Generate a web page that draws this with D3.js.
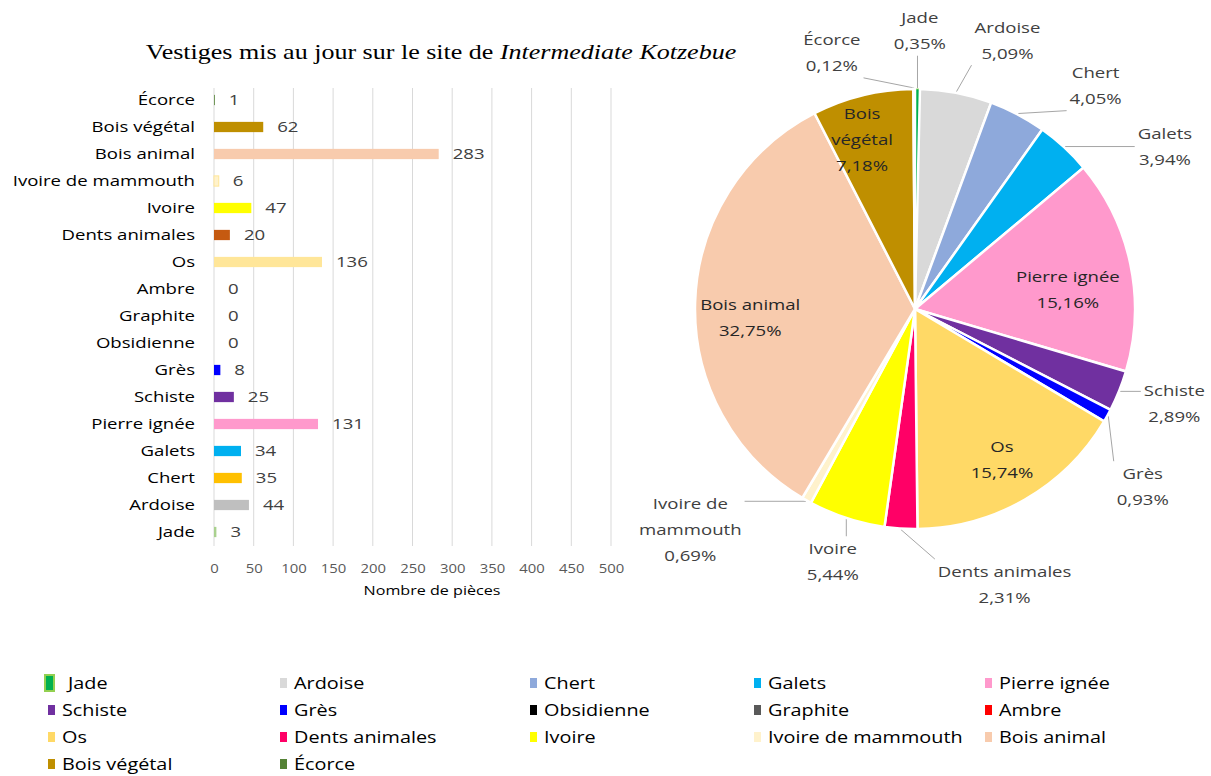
<!DOCTYPE html>
<html>
<head>
<meta charset="utf-8">
<script src="https://cdn.jsdelivr.net/npm/d3@7"></script>
<style>
  body { margin: 0; background: #fff; }
  text { font-family: "Open Sans", sans-serif; }
</style>
</head>
<body>
<div id="chart"></div>
<script>
// categories in pie / legend order (bar chart shows them reversed, top to bottom)
const categories = ["Jade", "Ardoise", "Chert", "Galets", "Pierre ignée", "Schiste", "Grès",
  "Obsidienne", "Graphite", "Ambre", "Os", "Dents animales", "Ivoire", "Ivoire de mammouth",
  "Bois animal", "Bois végétal", "Écorce"];
const counts = [3, 44, 35, 34, 131, 25, 8, 0, 0, 0, 136, 20, 47, 6, 283, 62, 1];
// percentages as printed on the pie
const pctLabels = ["0,35%", "5,09%", "4,05%", "3,94%", "15,16%", "2,89%", "0,93%",
  "", "", "", "15,74%", "2,31%", "5,44%", "0,69%", "32,75%", "7,18%", "0,12%"];
const barColors = ["#A9D18E", "#BFBFBF", "#FFC000", "#00B0F0", "#FF99CC", "#7030A0", "#0000FF",
  "#000000", "#595959", "#FF0000", "#FFE699", "#C55A11", "#FFFF00", "#FFF2CC",
  "#F8CBAD", "#BF8F00", "#548235"];
const pieColors = ["#00B050", "#D9D9D9", "#8EA9DB", "#00B0F0", "#FF99CC", "#7030A0", "#0000FF",
  "#000000", "#595959", "#FF0000", "#FFD966", "#FF0066", "#FFFF00", "#FFF2CC",
  "#F8CBAD", "#BF8F00", "#548235"];
const xTicks = [0, 50, 100, 150, 200, 250, 300, 350, 400, 450, 500];

const width = 1211, height = 776;
const SX = 1.24; // the original text is drawn wide
const svg = d3.select("#chart").append("svg")
  .attr("width", width).attr("height", height);

// put a text at (px,py) and widen it horizontally
function wideText(parent, px, py) {
  return parent.append("g").attr("transform", `translate(${px},${py})`)
    .append("text").attr("transform", `scale(${SX},1)`);
}

// ---- title
const title = wideText(svg, 441, 59)
  .attr("text-anchor", "middle")
  .style("font-family", "'Liberation Serif', serif")
  .style("font-size", "21px")
  .attr("fill", "#000");
title.append("tspan").text("Vestiges mis au jour sur le site de ");
title.append("tspan").style("font-style", "italic").text("Intermediate Kotzebue");

// ---- bar chart
const barData = categories.map((c, i) => ({ name: c, value: counts[i], color: barColors[i] })).reverse();

const x = d3.scaleLinear().domain([0, 500]).range([214, 611]);
const y = d3.scaleBand().domain(barData.map(d => d.name)).range([86.5, 545.5]).paddingInner(0.62).paddingOuter(0.31);

svg.append("g")
  .selectAll("line")
  .data(xTicks)
  .join("line")
  .attr("x1", d => x(d)).attr("x2", d => x(d))
  .attr("y1", 88).attr("y2", 546)
  .attr("stroke", "#d9d9d9").attr("stroke-width", 1);

svg.append("g")
  .selectAll("rect")
  .data(barData.filter(d => d.value > 0))
  .join("rect")
  .attr("x", x(0))
  .attr("y", d => y(d.name))
  .attr("width", d => x(d.value) - x(0))
  .attr("height", y.bandwidth())
  .attr("fill", d => d.color)
  .attr("stroke", d => d.name === "Ivoire de mammouth" ? "#FFE699" : "none");

barData.forEach(d => {
  wideText(svg, x(d.value) + 14, y(d.name) + y.bandwidth() / 2)
    .attr("dy", "0.35em")
    .attr("fill", "#404040")
    .style("font-size", "15px")
    .text(d.value);
});

const yAxis = svg.append("g")
  .attr("transform", `translate(${x(0) - 19},0)`)
  .call(d3.axisLeft(y).tickSize(0).tickPadding(0));
yAxis.select(".domain").remove();
yAxis.selectAll("text")
  .attr("transform", `scale(${SX},1)`)
  .attr("fill", "#000")
  .style("font-family", "'Open Sans', sans-serif")
  .style("font-size", "15px");

const xAxis = svg.append("g")
  .attr("transform", "translate(0,560)")
  .call(d3.axisBottom(x).tickValues(xTicks).tickSize(0).tickPadding(4));
xAxis.select(".domain").remove();
xAxis.selectAll("text")
  .attr("transform", `scale(${SX},1)`)
  .attr("fill", "#595959")
  .style("font-family", "'Open Sans', sans-serif")
  .style("font-size", "12px");

wideText(svg, 432, 595)
  .attr("text-anchor", "middle")
  .attr("fill", "#000")
  .style("font-size", "13px")
  .text("Nombre de pièces");

// ---- pie chart
const cx = 915, cy = 309, R = 220;
const pieData = categories.map((c, i) => ({ name: c, value: counts[i], color: pieColors[i], pct: pctLabels[i] }));
const arcs = d3.pie().sort(null).value(d => d.value)(pieData);
const arc = d3.arc().innerRadius(0).outerRadius(R);

const pie = svg.append("g").attr("transform", `translate(${cx},${cy})`);
const leaders = pie.append("g");
pie.selectAll("path")
  .data(arcs.filter(a => a.data.value > 0))
  .join("path")
  .attr("d", arc)
  .attr("fill", a => a.data.color)
  .attr("stroke", a => a.data.name === "Jade" ? "#92D050" : "#fff")
  .attr("stroke-width", a => a.data.name === "Jade" ? 1 : 2.5);

// label placement: [angle in degrees clockwise from 12 o'clock, radius]
const inside = {
  "Pierre ignée": [83, 154], "Os": [150, 174], "Bois animal": [267, 165], "Bois végétal": [342.6, 177]
};
const outside = {
  "Jade": [1, 278], "Ardoise": [19, 284], "Chert": [39, 287], "Galets": [57, 298],
  "Schiste": [110, 276], "Grès": [128, 289], "Dents animales": [162, 290], "Ivoire": [198, 266],
  "Ivoire de mammouth": [225.5, 315], "Écorce": [342, 269]
};
const polar = (deg, r) => [r * Math.sin(deg * Math.PI / 180), -r * Math.cos(deg * Math.PI / 180)];
const lineH = 26;

arcs.forEach(a => {
  const name = a.data.name;
  const pos = inside[name] || outside[name];
  if (!pos) return;
  const [lx, ly] = polar(pos[0], pos[1]);
  let lines = [name, a.data.pct];
  if (name === "Bois végétal") lines = ["Bois", "végétal", a.data.pct];
  if (name === "Ivoire de mammouth") lines = ["Ivoire de", "mammouth", a.data.pct];
  const t = wideText(pie, lx, ly)
    .attr("text-anchor", "middle")
    .attr("fill", inside[name] ? "#262626" : "#404040")
    .style("font-size", "15px");
  const top = -(lines.length - 1) * lineH / 2;
  lines.forEach((s, k) => t.append("tspan").attr("x", 0).attr("y", top + k * lineH).attr("dy", "0.35em").text(s));

  if (outside[name]) {
    const bb = t.node().getBBox();
    const bx0 = lx + bb.x * SX, bx1 = lx + (bb.x + bb.width) * SX;
    const by0 = ly + bb.y, by1 = ly + bb.y + bb.height;
    const mid = (a.startAngle + a.endAngle) / 2 * 180 / Math.PI;
    const [ex, ey] = polar(mid, R + 1);
    const px = Math.max(bx0 - 3, Math.min(ex, bx1 + 3));
    const py = Math.max(by0 - 2, Math.min(ey, by1 + 2));
    leaders.append("line")
      .attr("x1", ex).attr("y1", ey).attr("x2", px).attr("y2", py)
      .attr("stroke", "#a6a6a6").attr("stroke-width", 1);
  }
});

// ---- legend
const colX = [48, 280, 530, 754, 985];
const rowY = [683, 710, 737, 764];
const leg = svg.append("g")
  .selectAll("g")
  .data(pieData)
  .join("g")
  .attr("transform", (d, i) => `translate(${colX[i % 5]},${rowY[Math.floor(i / 5)]})`);
leg.append("rect")
  .attr("x", d => d.name === "Jade" ? -3 : 0)
  .attr("y", d => d.name === "Jade" ? -8 : -5)
  .attr("width", d => d.name === "Jade" ? 9 : 7)
  .attr("height", d => d.name === "Jade" ? 16 : 10)
  .attr("fill", d => d.color)
  .attr("stroke", d => d.name === "Jade" ? "#92D050" : "none")
  .attr("stroke-width", 2);
leg.each(function (d) {
  wideText(d3.select(this), d.name === "Jade" ? 20 : 14, 0)
    .attr("dy", "0.35em")
    .attr("fill", "#000")
    .style("font-size", "16px")
    .text(d.name);
});
</script>
</body>
</html>
